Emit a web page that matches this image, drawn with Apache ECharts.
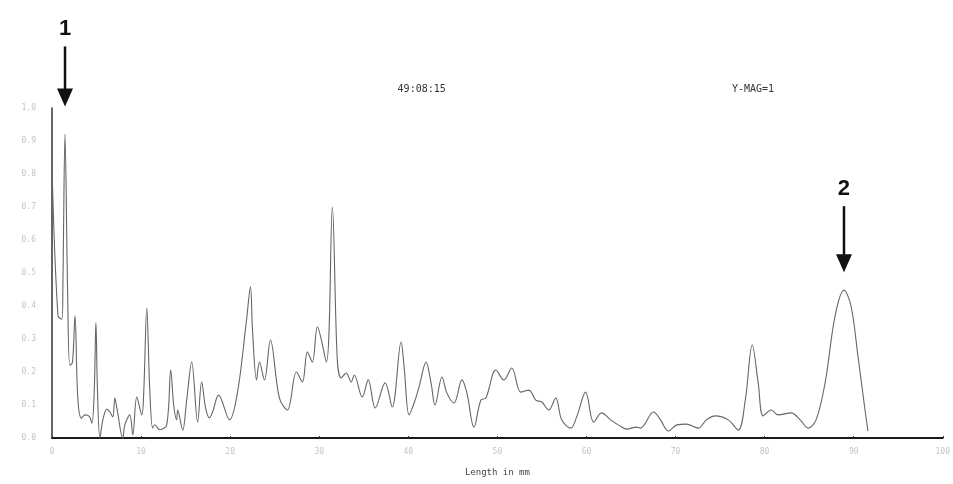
<!DOCTYPE html>
<html>
<head>
<meta charset="utf-8">
<script src="https://cdn.jsdelivr.net/npm/echarts@6/dist/echarts.min.js"></script>
<style>
  html, body { margin: 0; padding: 0; background: #fff; }
  #chart { width: 953px; height: 484px; }
</style>
</head>
<body>
<div id="chart"></div>
<script>
// Densitometer scan: absorbance along the strip (length in mm)
const lengthMm = [
  0, 0.67, 1.12, 1.23, 1.46, 1.75, 2.0, 2.3, 2.58, 2.9, 3.3, 3.7, 4.2, 4.48, 4.75, 4.93,
  5.1, 5.38, 5.71, 6.16, 6.49, 6.83, 7.05, 7.28, 7.95, 8.17, 8.73, 9.07, 9.52, 10.08,
  10.3, 10.64, 10.97, 11.3, 11.53, 12.09, 12.88, 13.33, 13.66, 14.0, 14.11, 14.67,
  15.12, 15.68, 16.35, 16.8, 17.25, 17.69, 18.03, 18.7, 19.93, 20.83, 21.84, 22.28,
  22.51, 22.96, 23.29, 23.85, 24.52, 25.53, 26.43, 27.44, 28.11, 28.67, 29.23, 29.79,
  30.8, 31.47, 32.03, 32.47, 33.03, 33.59, 33.93, 34.83, 35.5, 36.28, 37.4, 38.19,
  39.19, 39.53, 40.09, 40.65, 41.21, 41.99, 42.55, 43.0, 43.78, 44.34, 45.13, 46.02,
  46.58, 47.37, 48.15, 48.71, 49.83, 50.73, 51.62, 52.63, 53.53, 54.31, 54.98, 55.77,
  56.55, 57.22, 58.23, 58.9, 59.91, 60.81, 61.7, 62.71, 63.61, 64.5, 65.62, 66.07,
  67.53, 68.31, 69.2, 70.1, 71.22, 72.56, 73.46, 74.47, 75.92, 77.04, 77.83, 78.61,
  79.28, 79.84, 80.74, 81.52, 82.98, 83.99, 84.88, 85.78, 86.79, 87.91, 88.91, 89.7,
  90.48, 91.27, 91.6
];
const absorbance = [
  0.82, 0.37, 0.36, 0.48, 0.92, 0.45, 0.22, 0.23, 0.37, 0.12, 0.06, 0.07, 0.065, 0.045, 0.15, 0.35,
  0.15, 0.0, 0.055, 0.088, 0.079, 0.064, 0.121, 0.091, 0.0, 0.039, 0.07, 0.009, 0.124, 0.07,
  0.14, 0.394, 0.15, 0.03, 0.04, 0.025, 0.04, 0.206, 0.10, 0.055, 0.085, 0.024,
  0.115, 0.23, 0.048, 0.17, 0.09, 0.061, 0.079, 0.13, 0.055, 0.139, 0.358, 0.458,
  0.327, 0.176, 0.23, 0.176, 0.297, 0.121, 0.085, 0.2, 0.17, 0.261, 0.23, 0.336,
  0.23, 0.70, 0.236, 0.182, 0.197, 0.17, 0.191, 0.124, 0.176, 0.091, 0.167, 0.094,
  0.291, 0.215, 0.07, 0.106, 0.155, 0.23, 0.167, 0.10, 0.185, 0.136, 0.106, 0.176,
  0.136, 0.033, 0.115, 0.121, 0.206, 0.176, 0.212, 0.139, 0.145, 0.115, 0.109, 0.085,
  0.121, 0.055, 0.03, 0.064, 0.139, 0.048, 0.076, 0.055, 0.039, 0.027, 0.033, 0.03,
  0.079, 0.055, 0.021, 0.039, 0.042, 0.03, 0.055, 0.067, 0.055, 0.024, 0.115, 0.282,
  0.167, 0.067, 0.085, 0.07, 0.076, 0.055, 0.03, 0.055, 0.167, 0.37, 0.448, 0.40,
  0.248, 0.085, 0.021
];
const xTicks = ['0', '10', '20', '30', '40', '50', '60', '70', '80', '90', '100'];
const yTicks = ['0.0', '0.1', '0.2', '0.3', '0.4', '0.5', '0.6', '0.7', '0.8', '0.9', '1.0'];
// numbered peaks marked with arrows
const peakNames = ['1', '2'];
const peakPositions = [1.46, 88.91];
const headerLeft = '49:08:15';
const headerRight = 'Y-MAG=1';
const axisTitle = 'Length in mm';

const trace = lengthMm.map((x, i) => [x, absorbance[i]]);

const chart = echarts.init(document.getElementById('chart'), null, { renderer: 'canvas' });

const monoFont = '"DejaVu Sans Mono", "Liberation Mono", monospace';

chart.setOption({
  animation: false,
  backgroundColor: '#ffffff',
  grid: { left: 52, right: 8, top: 108, bottom: 46 },
  xAxis: {
    type: 'value',
    min: 0, max: 100, interval: 10,
    name: axisTitle,
    nameLocation: 'middle',
    nameGap: 30,
    nameTextStyle: { fontFamily: monoFont, fontSize: 9, color: '#444' },
    axisLine: { show: true, lineStyle: { color: '#1a1a1a', width: 1.8 } },
    axisTick: { show: true, inside: true, length: 2, lineStyle: { color: '#333' } },
    axisLabel: {
      margin: 10, fontFamily: monoFont, fontSize: 8, color: '#c4c4c4',
      formatter: (v) => xTicks[Math.round(v / 10)]
    },
    splitLine: { show: false }
  },
  yAxis: {
    type: 'value',
    min: 0, max: 1, interval: 0.1,
    axisLine: { show: true, onZero: false, lineStyle: { color: '#333', width: 1.5 } },
    axisTick: { show: false },
    axisLabel: {
      margin: 16, fontFamily: monoFont, fontSize: 8, color: '#c4c4c4',
      formatter: (v) => yTicks[Math.round(v * 10)]
    },
    splitLine: { show: false }
  },
  series: [{
    type: 'line',
    data: trace,
    smooth: 0.35,
    showSymbol: false,
    clip: false,
    lineStyle: { color: '#666', width: 1.1 }
  }]
});

// header texts and peak arrows drawn on top of the plot
function placeAnnotations() {
  const g = [];
  const topLeft = chart.convertToPixel({ gridIndex: 0 }, [41.5, 1.055]);
  const topRight = chart.convertToPixel({ gridIndex: 0 }, [78.7, 1.055]);
  g.push({ type: 'text', x: topLeft[0], y: topLeft[1], style: { text: headerLeft, font: '10px ' + monoFont, fill: '#333', align: 'center', verticalAlign: 'middle' } });
  g.push({ type: 'text', x: topRight[0], y: topRight[1], style: { text: headerRight, font: '10px ' + monoFont, fill: '#333', align: 'center', verticalAlign: 'middle' } });

  const gaps = [28, 18];
  const textRise = [77, 83];
  peakNames.forEach((name, k) => {
    const idx = lengthMm.indexOf(peakPositions[k]);
    const p = chart.convertToPixel({ gridIndex: 0 }, [lengthMm[idx], absorbance[idx]]);
    const tipY = p[1] - gaps[k];
    g.push({ type: 'line', shape: { x1: p[0], y1: tipY - textRise[k] + 17, x2: p[0], y2: tipY - 14 }, style: { stroke: '#111', lineWidth: 2.5 } });
    g.push({ type: 'polygon', shape: { points: [[p[0] - 8, tipY - 18], [p[0] + 8, tipY - 18], [p[0], tipY]] }, style: { fill: '#111' } });
    g.push({ type: 'text', x: p[0], y: tipY - textRise[k], style: { text: name, font: 'bold 22px "Liberation Sans", Arial, sans-serif', fill: '#111', align: 'center', verticalAlign: 'middle' } });
  });
  chart.setOption({ graphic: g });
}
placeAnnotations();
</script>
</body>
</html>
